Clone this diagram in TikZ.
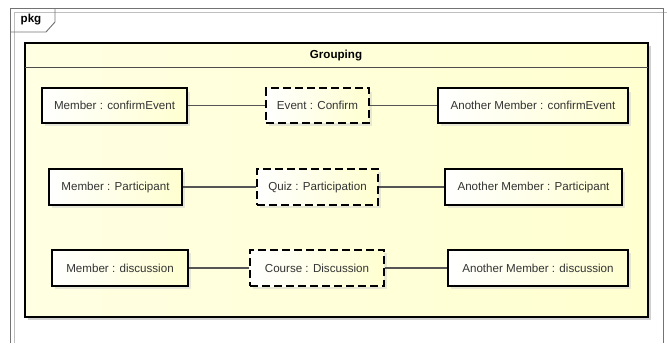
\documentclass[tikz,border=0pt]{standalone}
\usepackage{fontspec}
\setmainfont{Liberation Sans}
\usetikzlibrary{shadows}
\definecolor{uml}{HTML}{FFFFD0}
\definecolor{umlline}{HTML}{555555}
\begin{document}
\begin{tikzpicture}[x=0.75pt,y=-0.75pt,
	obj/.style={draw,line width=1.5pt,inner sep=0pt,minimum height=26pt,
		left color=white,right color=uml,text=black!80,
		font=\fontsize{8.7}{10}\selectfont,
		drop shadow={shadow xshift=2.5pt,shadow yshift=-2.5pt,fill=black!18}},
	inst/.style={obj,dash pattern=on 6pt off 3pt},
	link/.style={draw=umlline,line width=0.8pt}]
\useasboundingbox (0,0) rectangle (667,343);
%frame
\draw[black!25] (14,343) -- (14,12) -- (667,12);
\draw[black!55,line width=0.7pt] (10,343) -- (10,8) -- (663,8) -- (663,343);
\draw[black!55,line width=0.7pt] (10,32) -- (46,32) -- (55,22) -- (55,8);
\path (31,20) node[font=\bfseries\fontsize{8.7}{10}\selectfont] (pkg) {pkg};
%group
\fill[black!18] (28,46) rectangle (651,320);
\shade[left color=uml!60,right color=uml] (25,43) rectangle (648,317);
\draw[line width=1.5pt] (25,43) rectangle (648,317);
\draw[black!70,line width=0.6pt] (25,67) -- (648,67);
\path (336,56) node[font=\bfseries\fontsize{8.7}{10}\selectfont] (grp) {Grouping};
%row1
\node[obj,minimum width=108.75pt] (m1) at (114.5,105.5) {Member : confirmEvent};
\node[inst,minimum width=77.25pt] (e1) at (317.5,105.5) {Event : Confirm};
\node[obj,minimum width=142.5pt] (a1) at (533,105.5) {Another Member : confirmEvent};
%row2
\node[obj,minimum width=99.75pt,minimum height=27pt] (m2) at (115.5,187) {Member : Participant};
\node[inst,minimum width=90.75pt,minimum height=27pt] (e2) at (317.5,187) {Quiz : Participation};
\node[obj,minimum width=132.75pt,minimum height=27pt] (a2) at (533.5,187) {Another Member : Participant};
%row3
\node[obj,minimum width=102pt,minimum height=27pt] (m3) at (120,268) {Member : discussion};
\node[inst,minimum width=100.5pt,minimum height=27pt] (e3) at (317,268) {Course : Discussion};
\node[obj,minimum width=135pt,minimum height=27pt] (a3) at (538,268) {Another Member : discussion};
%links
\foreach \i in {1,2,3}{
	\draw[link] (m\i) -- (e\i);
	\draw[link] (e\i) -- (a\i);
}
\end{tikzpicture}
\end{document}
